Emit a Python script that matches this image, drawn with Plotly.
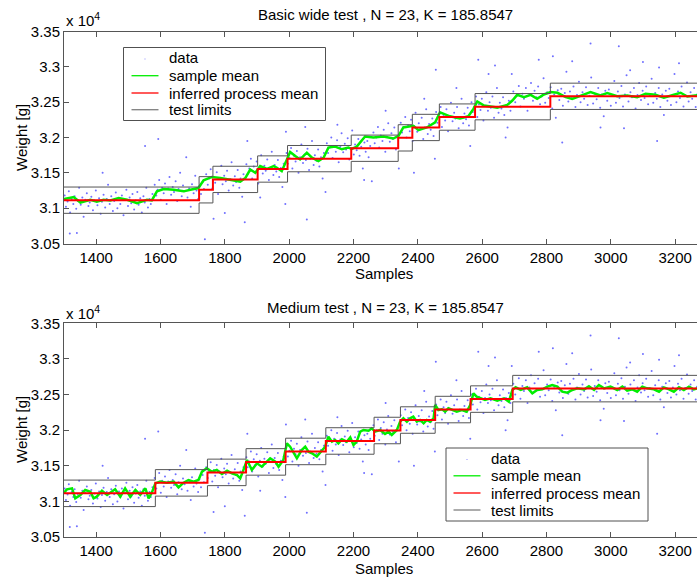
import plotly.graph_objects as go

# ---------------- data ----------------
# raw samples (shared by both panels): [sample index, weight in g]
data_pts = [
    [1302, 31180], [1306, 31020], [1311, 31095], [1315, 31240], [1318, 30640], [1319, 30940], [1324, 31130],
    [1329, 31060], [1333, 31170], [1338, 30990], [1340, 30650], [1343, 31105], [1347, 31290], [1352, 31050],
    [1357, 31150], [1361, 30880], [1366, 31120], [1371, 31210], [1376, 31030], [1380, 31080], [1385, 31160],
    [1390, 30970], [1395, 31110], [1399, 31250], [1404, 31040], [1409, 31140], [1414, 30920], [1418, 31090],
    [1420, 31500], [1423, 31190], [1428, 31010], [1433, 31130], [1437, 31330], [1442, 31060], [1447, 31170],
    [1452, 30960], [1456, 31100], [1461, 31220], [1466, 31000], [1471, 31140], [1475, 31060], [1480, 31180],
    [1485, 30900], [1490, 31120], [1494, 31260], [1499, 31030], [1504, 31150], [1509, 31070], [1513, 31200],
    [1518, 30980], [1523, 31110], [1528, 31230], [1532, 31050], [1537, 31140], [1542, 30940], [1547, 31170],
    [1551, 31080], [1552, 31880], [1556, 31290], [1561, 31010], [1566, 31130], [1570, 31060], [1575, 31200],
    [1582, 31330], [1587, 31180], [1591, 31260], [1593, 31980], [1596, 31400], [1601, 31120], [1605, 31290],
    [1610, 31210], [1614, 31350], [1619, 31060], [1624, 31280], [1628, 31440], [1633, 31190], [1638, 31300],
    [1642, 31230], [1647, 31380], [1652, 31100], [1656, 31270], [1661, 31500], [1666, 31170], [1670, 31320],
    [1675, 31240], [1680, 31720], [1684, 31150], [1689, 31280], [1694, 31020], [1698, 31340], [1703, 31210],
    [1708, 31460], [1712, 31250], [1717, 31130], [1721, 31310], [1726, 31200], [1731, 31370], [1735, 31270],
    [1738, 30560], [1742, 31480], [1747, 31330], [1751, 31420], [1756, 31550], [1761, 31280], [1765, 30850],
    [1766, 31440], [1770, 31360], [1775, 31510], [1779, 31200], [1784, 31420], [1789, 31600], [1793, 31340],
    [1798, 31460], [1800, 30930], [1803, 31380], [1807, 31530], [1812, 31250], [1817, 31410], [1821, 31650],
    [1826, 31320], [1831, 31450], [1835, 31370], [1840, 31540], [1845, 31290], [1849, 31420], [1854, 31160],
    [1858, 31480], [1862, 30800], [1867, 31620], [1870, 31950], [1871, 31480], [1876, 31560], [1881, 31700],
    [1885, 31420], [1890, 31590], [1895, 31510], [1899, 31660], [1904, 31350], [1909, 31570], [1910, 31150],
    [1913, 31750], [1918, 31490], [1923, 31600], [1927, 31530], [1932, 31690], [1937, 31400], [1941, 31560],
    [1946, 31800], [1951, 31470], [1955, 31610], [1960, 31520], [1965, 31680], [1969, 31440], [1974, 31570],
    [1979, 31300], [1983, 31630], [1988, 31060], [1990, 32080], [1992, 31780], [1996, 31630], [2001, 31710],
    [2006, 31850], [2010, 31560], [2015, 31740], [2020, 31660], [2024, 31810], [2029, 31500], [2034, 31720],
    [2038, 31900], [2043, 31640], [2048, 31760], [2050, 32150], [2052, 31680], [2055, 30840], [2057, 31840],
    [2062, 31540], [2066, 31700], [2071, 31950], [2076, 31610], [2080, 31750], [2085, 31670], [2090, 31830],
    [2094, 31590], [2099, 31720], [2104, 31420], [2108, 31780], [2113, 31230], [2117, 31920], [2121, 31780],
    [2126, 31860], [2131, 32000], [2135, 31710], [2140, 31880], [2145, 31800], [2149, 31960], [2150, 32180],
    [2154, 31650], [2159, 31870], [2163, 32060], [2168, 31790], [2173, 31910], [2177, 31830], [2182, 31990],
    [2187, 31690], [2191, 31850], [2196, 32100], [2201, 31760], [2205, 31900], [2210, 31820], [2215, 31980],
    [2219, 31740], [2224, 31870], [2229, 31560], [2233, 31400], [2234, 31930], [2238, 31800], [2243, 31950],
    [2247, 31720], [2252, 31880], [2257, 31380], [2262, 32070], [2266, 31920], [2271, 32000], [2276, 32150],
    [2280, 31860], [2285, 32030], [2290, 31950], [2294, 32110], [2299, 31800], [2300, 32380], [2304, 32010],
    [2308, 32200], [2313, 31940], [2318, 32060], [2322, 31980], [2327, 32140], [2332, 31830], [2336, 32000],
    [2341, 31560], [2347, 32210], [2351, 32070], [2356, 32150], [2361, 32290], [2365, 32000], [2370, 32170],
    [2375, 32090], [2379, 32250], [2384, 31950], [2388, 31500], [2389, 32160], [2393, 32350], [2398, 32080],
    [2403, 32200], [2407, 32120], [2412, 32280], [2417, 31980], [2420, 32550], [2421, 32140], [2426, 32400],
    [2431, 32050], [2435, 32190], [2440, 32110], [2445, 32270], [2449, 32020], [2453, 31700], [2456, 32960],
    [2457, 32360], [2461, 32210], [2466, 32290], [2471, 32430], [2475, 32150], [2480, 32320], [2485, 32240],
    [2489, 32400], [2494, 32090], [2499, 32300], [2503, 32490], [2508, 32230], [2513, 32350], [2517, 32270],
    [2520, 32700], [2522, 32430], [2527, 32130], [2531, 32290], [2536, 32550], [2541, 32200], [2545, 32340],
    [2550, 32260], [2555, 32420], [2559, 32170], [2563, 31880], [2567, 32500], [2571, 32360], [2576, 32440],
    [2581, 32580], [2585, 32290], [2588, 33100], [2590, 32470], [2595, 32390], [2599, 32550], [2604, 32240],
    [2609, 32450], [2613, 32640], [2618, 32380], [2620, 32900], [2623, 32500], [2627, 32420], [2632, 32580],
    [2637, 32280], [2640, 33020], [2641, 32430], [2646, 32700], [2651, 32350], [2655, 32490], [2660, 32410],
    [2665, 32570], [2669, 32320], [2673, 32000], [2674, 32450], [2679, 32140], [2683, 32520], [2688, 32380],
    [2692, 32900], [2697, 32650], [2703, 32500], [2708, 32590], [2714, 32730], [2719, 32440], [2725, 32620],
    [2730, 32550], [2736, 32700], [2741, 32380], [2747, 32600], [2752, 32770], [2758, 32520], [2763, 32660],
    [2769, 32570], [2774, 32720], [2776, 33100], [2780, 32470], [2785, 32580], [2791, 32840], [2796, 32490],
    [2802, 32640], [2807, 32560], [2813, 32710], [2818, 32410], [2820, 33150], [2824, 32610], [2829, 32280],
    [2835, 32670], [2840, 32530], [2846, 32690], [2849, 31930], [2851, 32450], [2857, 32630], [2862, 32930],
    [2868, 32510], [2873, 32650], [2879, 32560], [2880, 33080], [2884, 32720], [2890, 32430], [2895, 32600],
    [2901, 32790], [2906, 32500], [2912, 32640], [2917, 32550], [2923, 32710], [2928, 32460], [2934, 32590],
    [2937, 33330], [2939, 32850], [2945, 32480], [2950, 32620], [2956, 32540], [2961, 32700], [2967, 32420],
    [2968, 32140], [2972, 32610], [2978, 32300], [2983, 32660], [2989, 32520], [2994, 32680], [3000, 32450],
    [3005, 32600], [3011, 32800], [3016, 32490], [3022, 32650], [3025, 33290], [3027, 32560], [3033, 32730],
    [3038, 32440], [3041, 32130], [3044, 32610], [3049, 32880], [3055, 32510], [3060, 32950], [3061, 32640],
    [3066, 32570], [3072, 32700], [3077, 32410], [3083, 32600], [3088, 32770], [3094, 32530], [3099, 32660],
    [3100, 33070], [3105, 32560], [3110, 32720], [3116, 32470], [3121, 32590], [3127, 32830], [3132, 32490],
    [3138, 32630], [3143, 32550], [3144, 31950], [3149, 32700], [3150, 32990], [3154, 32430], [3160, 32610],
    [3165, 32320], [3171, 32660], [3176, 32520], [3182, 32690], [3187, 32460], [3193, 32600], [3198, 32900],
    [3204, 32500], [3209, 32650], [3212, 33050], [3215, 32560], [3220, 32720], [3226, 32440], [3231, 32590],
    [3237, 32780], [3242, 32510], [3248, 32640], [3253, 32550], [3259, 32700], [3264, 32430], [3268, 32610],
]

# sample mean, top panel (basic wide test)
mean_top_x = [1300, 1330, 1351, 1382, 1402, 1423, 1444, 1470, 1496, 1527, 1558, 1573, 1589, 1610, 1641,
              1672, 1693, 1718, 1734, 1760, 1786, 1817, 1848, 1864, 1879, 1895, 1910, 1931, 1952, 1962,
              1977, 1993, 2003, 2019, 2034, 2055, 2071, 2091, 2107, 2122, 2143, 2164, 2184, 2195, 2210,
              2236, 2262, 2293, 2324, 2340, 2355, 2386, 2402, 2428, 2454, 2469, 2500, 2531, 2557, 2573,
              2585, 2606, 2647, 2678, 2694, 2709, 2730, 2751, 2771, 2792, 2813, 2834, 2860, 2880, 2906,
              2937, 2968, 2989, 3020, 3051, 3082, 3108, 3139, 3165, 3196, 3217, 3238, 3264, 3270]
mean_top_y = [31128, 31157, 31080, 31119, 31090, 31119, 31109, 31142, 31119, 31071, 31119, 31109, 31238, 31271, 31261,
              31238, 31261, 31285, 31395, 31442, 31428, 31404, 31376, 31428, 31547, 31500, 31595, 31557, 31595, 31571,
              31523, 31690, 31795, 31738, 31690, 31785, 31714, 31666, 31714, 31857, 31871, 31833, 31857, 31840, 31871,
              32014, 32000, 32014, 31985, 32023, 32142, 32166, 32104, 32142, 32214, 32357, 32300, 32271, 32300, 32404,
              32509, 32452, 32423, 32461, 32523, 32604, 32571, 32604, 32547, 32609, 32642, 32633, 32571, 32547, 32595,
              32642, 32595, 32628, 32585, 32595, 32571, 32619, 32604, 32562, 32604, 32633, 32580, 32604, 32600]

# sample mean, bottom panel (medium test)
mean_bot_x = [1300, 1309, 1325, 1335, 1351, 1366, 1382, 1392, 1402, 1418, 1434, 1444, 1459, 1475, 1490,
              1506, 1522, 1537, 1553, 1563, 1573, 1584, 1599, 1620, 1641, 1656, 1672, 1687, 1703, 1718,
              1729, 1744, 1760, 1775, 1791, 1807, 1822, 1838, 1848, 1856, 1869, 1884, 1900, 1915, 1931,
              1941, 1957, 1967, 1982, 1993, 2003, 2014, 2024, 2039, 2050, 2060, 2071, 2086, 2102, 2112,
              2122, 2133, 2143, 2153, 2164, 2179, 2190, 2200, 2210, 2221, 2231, 2247, 2257, 2267, 2283,
              2298, 2309, 2319, 2335, 2345, 2355, 2366, 2376, 2386, 2397, 2407, 2418, 2428, 2438, 2449,
              2454, 2464, 2475, 2485, 2495, 2506, 2521, 2537, 2552, 2563, 2573, 2583, 2594, 2609, 2626,
              2647, 2668, 2683, 2694, 2704, 2720, 2740, 2756, 2771, 2787, 2803, 2818, 2834, 2849, 2865,
              2880, 2896, 2917, 2932, 2948, 2963, 2979, 2999, 3020, 3036, 3051, 3067, 3082, 3098, 3113,
              3134, 3150, 3165, 3181, 3196, 3212, 3227, 3243, 3258, 3270]
mean_bot_y = [31122, 31169, 31183, 31043, 31090, 31160, 31136, 31043, 31066, 31150, 31090, 31122, 31169, 31066, 31183,
              31066, 31160, 31090, 31183, 31043, 31122, 31253, 31277, 31263, 31277, 31197, 31263, 31300, 31277, 31300,
              31417, 31464, 31417, 31441, 31385, 31431, 31394, 31370, 31324, 31417, 31581, 31441, 31534, 31487, 31558,
              31605, 31558, 31487, 31581, 31815, 31768, 31675, 31605, 31721, 31768, 31698, 31675, 31628, 31721, 31768,
              31909, 31838, 31862, 31815, 31871, 31838, 31899, 31792, 31838, 31979, 32002, 31993, 32026, 31979, 32002,
              31946, 31979, 31932, 32002, 32119, 32166, 32119, 32166, 32189, 32119, 32143, 32096, 32143, 32119, 32166,
              32353, 32283, 32293, 32260, 32307, 32283, 32260, 32283, 32260, 32353, 32517, 32470, 32447, 32423, 32447,
              32414, 32447, 32400, 32564, 32601, 32564, 32601, 32517, 32564, 32573, 32611, 32634, 32611, 32540, 32526,
              32564, 32587, 32573, 32615, 32564, 32634, 32587, 32611, 32564, 32611, 32555, 32573, 32540, 32611, 32587,
              32573, 32540, 32601, 32573, 32540, 32601, 32564, 32611, 32573, 32587]

# inferred process mean levels and test limits (K = 185.85)
level_vals = [31113, 31260, 31407, 31554, 31701, 31848, 31995, 32142, 32289, 32436, 32583, 32583]
upper_vals = [31299, 31446, 31593, 31740, 31887, 32034, 32181, 32328, 32475, 32622, 32769, 32769]
lower_vals = [30927, 31074, 31221, 31368, 31515, 31662, 31809, 31956, 32103, 32250, 32397, 32397]
change_top = [1300, 1720, 1763, 1902, 1995, 2193, 2339, 2383, 2467, 2578, 2812, 3270]
change_bot = [1300, 1584, 1746, 1866, 1989, 2114, 2264, 2346, 2454, 2564, 2695, 3270]

titles = ["Basic wide test , N = 23, K = 185.8547", "Medium test , N = 23, K = 185.8547"]
legend_labels = ["data", "sample mean", "inferred process mean", "test limits"]
x_ticks = [1400, 1600, 1800, 2000, 2200, 2400, 2600, 2800, 3000, 3200]
y_ticks = [30500, 31000, 31500, 32000, 32500, 33000, 33500]
y_ticktext = ["3.05", "3.1", "3.15", "3.2", "3.25", "3.3", "3.35"]

# ---------------- figure ----------------
W, H = 697, 580
ML = 64
FONT = "Arial, Liberation Sans, sans-serif"
AX = "#555555"
GREEN = "#00ee00"
RED = "#ff0000"
LIM = "#555555"

fig = go.Figure()
data_x = [p[0] for p in data_pts]
data_y = [p[1] for p in data_pts]

panels = [
    ("x", "y", mean_top_x, mean_top_y, change_top),
    ("x2", "y2", mean_bot_x, mean_bot_y, change_bot),
]
for xa, ya, mx, my, cx in panels:
    fig.add_trace(go.Scatter(x=data_x, y=data_y, mode="markers", name=legend_labels[0],
                             marker=dict(color="rgba(50,50,255,0.7)", size=2, line=dict(width=0)),
                             xaxis=xa, yaxis=ya, showlegend=False))
    fig.add_trace(go.Scatter(x=mx, y=my, mode="lines", name=legend_labels[1],
                             line=dict(color=GREEN, width=2.5), xaxis=xa, yaxis=ya, showlegend=False))
    fig.add_trace(go.Scatter(x=cx, y=level_vals, mode="lines", name=legend_labels[2],
                             line=dict(color=RED, width=2, shape="hv"), xaxis=xa, yaxis=ya, showlegend=False))
    fig.add_trace(go.Scatter(x=cx, y=upper_vals, mode="lines", name=legend_labels[3],
                             line=dict(color=LIM, width=1, shape="hv"), xaxis=xa, yaxis=ya, showlegend=False))
    fig.add_trace(go.Scatter(x=cx, y=lower_vals, mode="lines", name=legend_labels[3],
                             line=dict(color=LIM, width=1, shape="hv"), xaxis=xa, yaxis=ya, showlegend=False))


def py(p):
    return 1 - p / H


def px(p):
    return (p - ML) / (W - ML)


xcommon = dict(range=[1300, 3268], tickvals=x_ticks, ticks="inside", ticklen=5, tickcolor=AX,
               showline=True, linecolor=AX, linewidth=1, mirror="ticks", showgrid=False, zeroline=False,
               tickfont=dict(family=FONT, size=15, color="black"))
ycommon = dict(range=[30500, 33500], tickvals=y_ticks, ticktext=y_ticktext, ticks="inside", ticklen=5,
               tickcolor=AX, showline=True, linecolor=AX, linewidth=1, mirror=False, showgrid=False,
               zeroline=False, tickfont=dict(family=FONT, size=15, color="black"))

fig.update_layout(
    width=W, height=H, autosize=False,
    margin=dict(l=ML, r=0, t=0, b=0, pad=0, autoexpand=False),
    paper_bgcolor="white", plot_bgcolor="white",
    font=dict(family=FONT, size=15, color="black"),
    showlegend=False,
    xaxis=dict(domain=[0, 1], anchor="y", **xcommon),
    yaxis=dict(domain=[py(243.5), py(31.5)], anchor="x", **ycommon),
    xaxis2=dict(domain=[0, 1], anchor="y2", **xcommon),
    yaxis2=dict(domain=[py(537.0), py(323.3)], anchor="x2", **ycommon),
)

ann = []
shapes = []
for title, ty, exy, sy, wy in [(titles[0], 14, 19, 274, 138), (titles[1], 307, 312, 568, 430)]:
    ann.append(dict(text=title, x=px(385), y=py(ty), xref="paper", yref="paper",
                    xanchor="center", yanchor="middle", showarrow=False, font=dict(size=15)))
    ann.append(dict(text="x 10<sup>4</sup>", x=0, y=py(exy), xref="paper", yref="paper",
                    xanchor="left", yanchor="middle", showarrow=False, font=dict(size=15)))
    ann.append(dict(text="Samples", x=px(384), y=py(sy), xref="paper", yref="paper",
                    xanchor="center", yanchor="middle", showarrow=False, font=dict(size=15)))
    ann.append(dict(text="Weight [g]", x=px(21), y=py(wy), xref="paper", yref="paper",
                    xanchor="center", yanchor="middle", showarrow=False, textangle=-90,
                    font=dict(size=15)))

# legend boxes (left, top, right, bottom) in pixels, entry rows, sample line span, text x
legend_boxes = [
    dict(box=(123.5, 47.5, 325.5, 120.5), rows=(58, 75.7, 93, 109.7), line=(131.5, 158.5), tx=166.5),
    dict(box=(446, 448, 648, 521), rows=(458.5, 475.8, 493, 510), line=(453.5, 480.5), tx=489),
]
sample_colors = [None, GREEN, RED, "#7f7f7f"]
for lb in legend_boxes:
    l, t, r, b = lb["box"]
    shapes.append(dict(type="rect", xref="paper", yref="paper", x0=px(l), x1=px(r), y0=py(b), y1=py(t),
                       line=dict(color="#505050", width=1), fillcolor="white", layer="above"))
    for label, ry, col in zip(legend_labels, lb["rows"], sample_colors):
        if col is None:
            cxp = (lb["line"][0] + lb["line"][1]) / 2
            shapes.append(dict(type="rect", xref="paper", yref="paper", x0=px(cxp - 0.6), x1=px(cxp + 0.6),
                               y0=py(ry + 1.6), y1=py(ry + 0.4), line=dict(width=0),
                               fillcolor="rgba(120,120,255,0.7)", layer="above"))
        else:
            shapes.append(dict(type="line", xref="paper", yref="paper", x0=px(lb["line"][0]),
                               x1=px(lb["line"][1]), y0=py(ry), y1=py(ry),
                               line=dict(color=col, width=1.3), layer="above"))
        ann.append(dict(text=label, x=px(lb["tx"]), y=py(ry), xref="paper", yref="paper",
                        xanchor="left", yanchor="middle", showarrow=False, font=dict(size=15)))

fig.update_layout(annotations=ann, shapes=shapes)

fig.write_html("out.html", config={"responsive": False, "displayModeBar": False},
               post_script="document.body.style.margin='0';document.body.style.padding='0';")
